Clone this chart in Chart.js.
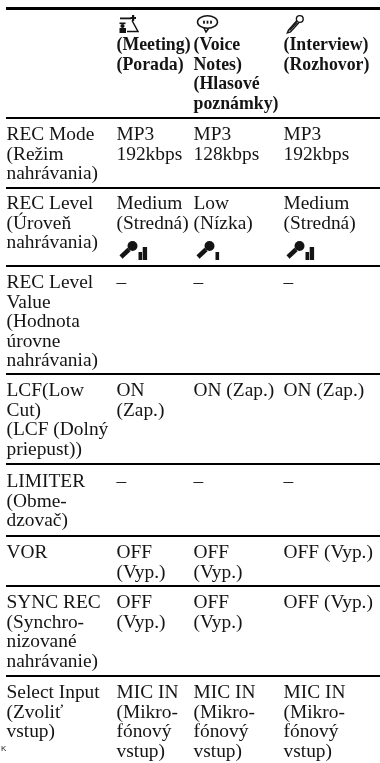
<!DOCTYPE html>
<html>
<head>
<meta charset="utf-8">
<style>
    html, body { margin: 0; padding: 0; background: #fff; }
    canvas { display: block; }
</style>
<script src="https://cdn.jsdelivr.net/npm/chart.js@4"></script>
</head>
<body>
<canvas id="tableChart" width="380" height="763"></canvas>
<script>
// Table content
const columnTitles = ['', '(Meeting)\n(Porada)', '(Voice\nNotes)\n(Hlasové\npoznámky)', '(Interview)\n(Rozhovor)'];
const settingNames = [
    'REC Mode\n(Režim\nnahrávania)',
    'REC Level\n(Úroveň\nnahrávania)',
    'REC Level\nValue\n(Hodnota\núrovne\nnahrávania)',
    'LCF(Low\nCut)\n(LCF (Dolný\npriepust))',
    'LIMITER\n(Obme-\ndzovač)',
    'VOR',
    'SYNC REC\n(Synchro-\nnizované\nnahrávanie)',
    'Select Input\n(Zvoliť\nvstup)'
];
const meetingValues = ['MP3\n192kbps', 'Medium\n(Stredná)', '–', 'ON\n(Zap.)', '–', 'OFF\n(Vyp.)', 'OFF\n(Vyp.)', 'MIC IN\n(Mikro-\nfónový\nvstup)'];
const voiceValues = ['MP3\n128kbps', 'Low\n(Nízka)', '–', 'ON (Zap.)', '–', 'OFF\n(Vyp.)', 'OFF\n(Vyp.)', 'MIC IN\n(Mikro-\nfónový\nvstup)'];
const interviewValues = ['MP3\n192kbps', 'Medium\n(Stredná)', '–', 'ON (Zap.)', '–', 'OFF (Vyp.)', 'OFF (Vyp.)', 'MIC IN\n(Mikro-\nfónový\nvstup)'];
const levelBars = [2, 1, 2];

// Layout of the table on the scales (axis units are page pixels)
const columnStarts = [6.5, 116.5, 193.5, 283.5];
const ruleLines = [8.5, 118, 188, 266, 374, 464, 536, 586, 676];
const headerBaseline = 50;
const bodyBaselines = [140, 209, 288, 396, 487, 558, 608, 698];
const LINE_HEIGHT = 19.6;
const REGULAR_FONT = '19.4px "Liberation Serif"';
const BOLD_FONT = 'bold 17.8px "Liberation Serif"';
const INK = '#141414';

const columns = [settingNames, meetingValues, voiceValues, interviewValues];

function buildColumn(values, colIndex) {
    const points = [{ x: columnStarts[colIndex], y: headerBaseline, text: columnTitles[colIndex], header: true }];
    values.forEach((text, rowIndex) => {
        points.push({ x: columnStarts[colIndex], y: bodyBaselines[rowIndex], text: text, header: false });
    });
    return points;
}

// Header icons, drawn around the column start
function drawMeetingIcon(ctx, x, y) {
    ctx.fillRect(x + 3.5, y - 4.5, 11, 1.8);
    ctx.fillRect(x + 15.5, y - 7, 2.2, 6);
    ctx.fillRect(x + 14, y - 5, 5.5, 2);
    ctx.fillRect(x + 3, y + 0.5, 6, 1.6);
    ctx.beginPath();
    ctx.arc(x + 6, y + 4, 2.1, 0, Math.PI * 2);
    ctx.fill();
    ctx.fillRect(x + 3, y + 6, 6.5, 5);
    ctx.lineWidth = 1.5;
    ctx.beginPath();
    ctx.moveTo(x + 15.5, y - 1.5);
    ctx.lineTo(x + 21.5, y + 9.5);
    ctx.lineTo(x + 10.5, y + 9.5);
    ctx.stroke();
}

function drawBubbleIcon(ctx, x, y) {
    ctx.lineWidth = 1.5;
    ctx.beginPath();
    ctx.ellipse(x + 14, y, 10, 6.3, 0, 0, Math.PI * 2);
    ctx.stroke();
    ctx.beginPath();
    ctx.moveTo(x + 10.5, y + 6);
    ctx.lineTo(x + 12.5, y + 10);
    ctx.lineTo(x + 15, y + 6.5);
    ctx.stroke();
    [10.5, 14, 17.5].forEach(dx => ctx.fillRect(x + dx - 0.9, y - 1.3, 1.8, 3));
}

function drawPenMicIcon(ctx, x, y) {
    ctx.lineWidth = 1.4;
    ctx.beginPath();
    ctx.arc(x + 16.3, y - 3, 3.4, 0, Math.PI * 2);
    ctx.stroke();
    ctx.beginPath();
    ctx.moveTo(x + 13.5, y - 1.5);
    ctx.lineTo(x + 5, y + 8);
    ctx.lineTo(x + 3.8, y + 11);
    ctx.lineTo(x + 7, y + 10);
    ctx.lineTo(x + 15.5, y + 0.5);
    ctx.stroke();
    ctx.lineWidth = 1.6;
    ctx.beginPath();
    ctx.moveTo(x + 6, y + 8.5);
    ctx.lineTo(x + 13.5, y + 0.5);
    ctx.stroke();
}

function drawLevelIcon(ctx, x, y, bars) {
    ctx.beginPath();
    ctx.arc(x + 16, y + 5, 5, 0, Math.PI * 2);
    ctx.fill();
    ctx.lineWidth = 4.5;
    ctx.beginPath();
    ctx.moveTo(x + 12.5, y + 8.5);
    ctx.lineTo(x + 4.5, y + 16);
    ctx.stroke();
    ctx.fillRect(x + 22, y + 11, 3.6, 8);
    if (bars > 1) {
        ctx.fillRect(x + 26.2, y + 6, 4.4, 13);
    }
}

const tableTextPlugin = {
    id: 'tableText',
    afterDatasetsDraw(chart) {
        const ctx = chart.ctx;
        ctx.save();
        ctx.fillStyle = INK;
        ctx.strokeStyle = INK;
        ctx.textAlign = 'left';
        ctx.textBaseline = 'alphabetic';

        chart.data.datasets.forEach((dataset, d) => {
            const meta = chart.getDatasetMeta(d);
            meta.data.forEach((el, i) => {
                const cell = dataset.data[i];
                ctx.font = cell.header ? BOLD_FONT : REGULAR_FONT;
                cell.text.split('\n').forEach((line, n) => {
                    ctx.fillText(line, el.x, el.y + n * LINE_HEIGHT);
                });
            });
        });

        // Icons follow the column and row positions of the scales
        const xs = chart.scales.x;
        const ys = chart.scales.y;
        const headerIconY = ys.getPixelForValue(headerBaseline) - 28;
        drawMeetingIcon(ctx, xs.getPixelForValue(columnStarts[1]), headerIconY);
        drawBubbleIcon(ctx, xs.getPixelForValue(columnStarts[2]), headerIconY);
        drawPenMicIcon(ctx, xs.getPixelForValue(columnStarts[3]), headerIconY);
        levelBars.forEach((bars, i) => {
            const levelY = ys.getPixelForValue(bodyBaselines[1]) + 32;
            drawLevelIcon(ctx, xs.getPixelForValue(columnStarts[i + 1]), levelY, bars);
        });

        // Small stray mark at the page edge
        ctx.font = '8px "Liberation Sans"';
        ctx.fillText('K', 1, 751);
        ctx.restore();
    }
};

new Chart(document.getElementById('tableChart').getContext('2d'), {
    type: 'scatter',
    data: {
        datasets: columns.map((values, i) => ({
            label: 'col' + i,
            data: buildColumn(values, i),
            pointRadius: 0,
            showLine: false
        }))
    },
    plugins: [tableTextPlugin],
    options: {
        responsive: false,
        animation: false,
        layout: { padding: { left: 6 } },
        plugins: { legend: { display: false }, tooltip: { enabled: false } },
        scales: {
            x: {
                type: 'linear',
                min: 6,
                max: 380,
                display: false
            },
            y: {
                type: 'linear',
                reverse: true,
                min: 0,
                max: 763,
                afterBuildTicks(scale) {
                    scale.ticks = ruleLines.map(v => ({ value: v }));
                },
                grid: {
                    color: '#000',
                    drawTicks: false,
                    lineWidth: ctx => (ctx.index === 0 ? 3 : 2)
                },
                border: { display: false },
                ticks: { display: false }
            }
        }
    }
});
</script>
</body>
</html>
